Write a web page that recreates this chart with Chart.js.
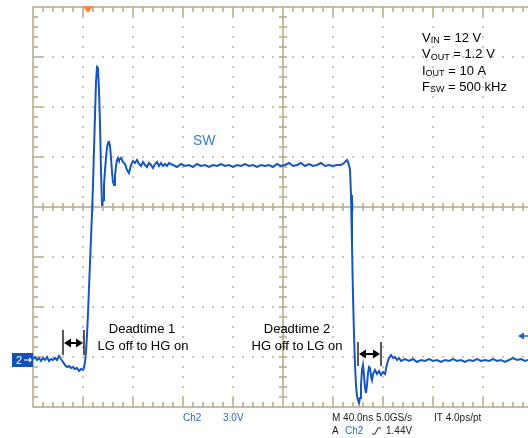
<!DOCTYPE html>
<html>
<head>
<meta charset="utf-8">
<script src="https://cdn.jsdelivr.net/npm/chart.js@4.4.1/dist/chart.umd.min.js"></script>
<style>
  html, body { margin: 0; padding: 0; background: #fff; overflow: hidden; }
  #wrap { width: 528px; height: 438px; }
</style>
</head>
<body>
<div id="wrap"><canvas id="scope"></canvas></div>
<script>
// time axis: 40 ns/div, volts: 3 V/div (Ch2, SW node)
const timeNs = [
  0, 1.6, 3.2, 4.8, 6.4, 8, 9.6, 11.2, 12.8, 14.4, 16, 17.6, 19.2, 20.8, 22.4,
  24, 25.6, 27.2, 28.8, 30.4, 32, 33.6, 35.2, 36.8, 38.4, 40, 40.8, 41.6,
  42.4, 43.2, 44, 44.8, 45.6, 46.4, 47.2, 48, 48.8, 49.6, 50.4, 51.2, 52, 52.8,
  53.6, 54.4, 55.2, 56, 56.8, 57.6, 58.4, 59.2, 60, 60.8, 61.6, 62.4, 63.2, 64,
  64.8, 65.6, 66.4, 67.2, 68, 68.8, 70.4, 72, 73.6, 75.2, 76.8, 78.4, 80, 81.6,
  83.2, 84.8, 86.4, 88, 89.6, 91.2, 92.8, 94.4, 96, 97.6, 99.2, 100.8, 102.4,
  104, 105.6, 107.2, 108.8, 112, 115.2, 118.4, 121.6, 124.8, 128, 131.2, 134.4,
  137.6, 140.8, 144, 147.2, 150.4, 153.6, 156.8, 160, 163.2, 166.4, 169.6, 172.8,
  176, 179.2, 182.4, 185.6, 188.8, 192, 195.2, 198.4, 201.6, 204.8, 208, 211.2,
  214.4, 217.6, 220.8, 224, 227.2, 230.4, 233.6, 236.8, 240, 243.2, 246.4, 248.8,
  250.4, 251.2, 252, 252.8, 253.6, 254.4, 255.2, 256, 256.8, 257.6, 258.4, 259.2,
  260, 260.8, 261.6, 262.4, 263.2, 264, 264.8, 265.6, 266.4, 267.2, 268, 268.8,
  269.6, 270.4, 271.2, 272, 273.6, 275.2, 276.8, 278.4, 280, 281.6, 283.2, 284.8,
  286.4, 288, 289.6, 291.2, 292.8, 294.4, 297.6, 300.8, 304, 307.2, 310.4, 313.6,
  316.8, 320, 323.2, 326.4, 329.6, 332.8, 336, 339.2, 342.4, 345.6, 348.8, 352,
  355.2, 358.4, 361.6, 364.8, 368, 371.2, 374.4, 377.6, 380.8, 384, 387.2, 390.4,
  393.6, 396
];
const swVolts = [
  0.06, 0.18, 0, 0.12, -0.06, 0.12, 0, 0.18, -0.06, 0.06, 0, 0.12, 0, 0.24, 0.06,
  -0.12, -0.3, -0.42, -0.36, -0.48, -0.42, -0.54, -0.48, -0.66, -0.54, -0.6, -0.48, -0.12,
  0.48, 1.5, 2.82, 4.32, 5.82, 7.32, 8.82, 10.5, 12.6, 14.7, 16.68, 17.58, 17.52, 16.2,
  14.1, 11.4, 9.24, 9.6, 10.5, 11.4, 12.12, 12.72, 13.02, 13.08, 12.84, 12.12, 11.28, 10.68,
  10.5, 11.04, 11.64, 12.0, 12.12, 12.0, 12.12, 11.88, 11.76, 11.4, 11.22, 11.7, 11.94, 11.82,
  12.0, 11.76, 11.64, 11.88, 11.7, 11.58, 11.82, 11.7, 11.52, 11.76, 11.88, 11.64, 11.82,
  11.64, 11.76, 11.64, 11.82, 11.7, 11.58, 11.76, 11.64, 11.7, 11.58, 11.76, 11.64,
  11.7, 11.58, 11.7, 11.64, 11.76, 11.64, 11.7, 11.58, 11.7, 11.64, 11.76, 11.64,
  11.7, 11.58, 11.7, 11.64, 11.7, 11.58, 11.76, 11.64, 11.7, 11.82, 11.64, 11.7,
  11.82, 11.64, 11.76, 11.64, 11.7, 11.82, 11.64, 11.7, 11.64, 11.7, 11.7, 11.82,
  11.94, 12.0, 11.88, 11.7, 11.4, 9.9, 6.9, 3.9, 1.5, -0.3, -1.5, -2.16,
  -2.4, -2.58, -2.28, -1.5, -0.6, -0.3, -0.9, -1.68, -1.98, -1.5, -0.78, -0.42,
  -0.48, -0.96, -1.2, -0.84, -0.6, -0.84, -0.66, -0.9, -0.72, -0.84, -0.24, 0.12,
  0.3, 0.12, 0.18, 0, 0.12, -0.06, 0.06, -0.06, 0.06, -0.12, 0, -0.06,
  0.06, -0.06, 0, -0.12, 0, -0.06, 0.06, -0.06, 0, -0.12, 0, -0.06,
  0.06, -0.06, 0, -0.06, 0.06, -0.06, 0, -0.12, 0, 0.12, 0, 0.06,
  -0.06, 0
];
const nsPerDiv = 40;
const voltsPerDiv = 3;
const triggerNs = 44;
const triggerVolts = 1.44;
const settings = ["40.0ns", "5.0GS/s", "4.0ps/pt", "3.0V", "1.44V"];

const graticule = {
  id: "graticule",
  beforeDatasetsDraw(chart) {
    const { ctx, scales: { x, y } } = chart;
    const xAt = i => x.getPixelForValue(i * nsPerDiv);
    const yAt = j => y.getPixelForValue(y.min + j * voltsPerDiv);
    const left = xAt(0), right = xAt(10), top = yAt(8), bottom = yAt(0);
    const mx = (xAt(1) - xAt(0)) / 5, my = (yAt(0) - yAt(1)) / 5;
    ctx.save();
    // dotted division lines
    ctx.fillStyle = "#cdc6aa";
    for (let i = 1; i < 10; i++) {
      if (i === 5) continue;
      const px = Math.round(xAt(i));
      for (let k = 1; k < 40; k++) ctx.fillRect(px - 1, Math.round(top + k * my) - 1, 2, 2);
    }
    for (let j = 1; j < 8; j++) {
      if (j === 4) continue;
      const py = Math.round(yAt(j));
      for (let k = 1; k < 50; k++) ctx.fillRect(Math.round(left + k * mx) - 1, py - 1, 2, 2);
    }
    ctx.strokeStyle = "#b1a98b";
    ctx.lineWidth = 1.5;
    // frame
    ctx.strokeRect(left, top, right - left, bottom - top);
    ctx.beginPath();
    // border ticks
    for (let k = 1; k < 50; k++) {
      const px = left + k * mx, len = k % 5 === 0 ? 9 : 5;
      ctx.moveTo(px, top); ctx.lineTo(px, top + len);
      ctx.moveTo(px, bottom); ctx.lineTo(px, bottom - len);
    }
    for (let k = 1; k < 40; k++) {
      const py = top + k * my, len = k % 5 === 0 ? 9 : 5;
      ctx.moveTo(left, py); ctx.lineTo(left + len, py);
    }
    // center cross with minor ticks
    const cx = xAt(5), cy = yAt(4);
    ctx.moveTo(left, cy); ctx.lineTo(right, cy);
    ctx.moveTo(cx, top); ctx.lineTo(cx, bottom);
    for (let k = 1; k < 50; k++) {
      const px = left + k * mx;
      ctx.moveTo(px, cy - 4); ctx.lineTo(px, cy + 4);
    }
    for (let k = 1; k < 40; k++) {
      const py = top + k * my;
      ctx.moveTo(cx - 4, py); ctx.lineTo(cx + 4, py);
    }
    ctx.stroke();
    ctx.restore();
  }
};

function arrowHead(ctx, x, y, dir, len, half) {
  ctx.beginPath();
  ctx.moveTo(x, y);
  ctx.lineTo(x - dir * len, y - half);
  ctx.lineTo(x - dir * len, y + half);
  ctx.closePath();
  ctx.fill();
}

function subText(ctx, x, y, main, sub, rest) {
  ctx.font = "13px 'Liberation Sans', Arial, sans-serif";
  ctx.fillText(main, x, y);
  x += ctx.measureText(main).width;
  ctx.font = "9px 'Liberation Sans', Arial, sans-serif";
  ctx.fillText(sub, x, y + 3);
  x += ctx.measureText(sub).width;
  ctx.font = "13px 'Liberation Sans', Arial, sans-serif";
  ctx.fillText(rest, x, y);
}

const overlay = {
  id: "overlay",
  afterDatasetsDraw(chart) {
    const { ctx, scales: { x, y } } = chart;
    ctx.save();
    ctx.textBaseline = "middle";
    // deadtime markers
    ctx.strokeStyle = "#000";
    ctx.fillStyle = "#000";
    ctx.lineWidth = 1.3;
    const marks = [[24, 40.8, 1.8, 0.3, 1.02], [260, 278.4, 1.08, -0.36, 0.36]];
    marks.forEach(([t0, t1, vTop, vBot, vArr]) => {
      const x0 = x.getPixelForValue(t0), x1 = x.getPixelForValue(t1);
      const ya = y.getPixelForValue(vArr);
      ctx.beginPath();
      ctx.moveTo(x0, y.getPixelForValue(vTop)); ctx.lineTo(x0, y.getPixelForValue(vBot));
      ctx.moveTo(x1, y.getPixelForValue(vTop)); ctx.lineTo(x1, y.getPixelForValue(vBot));
      ctx.stroke();
      ctx.lineWidth = 2;
      ctx.beginPath();
      ctx.moveTo(x0 + 5, ya); ctx.lineTo(x1 - 5, ya);
      ctx.stroke();
      ctx.lineWidth = 1.3;
      arrowHead(ctx, x0 + 1, ya, -1, 7, 4.5);
      arrowHead(ctx, x1 - 1, ya, 1, 7, 4.5);
    });
    ctx.textAlign = "center";
    ctx.font = "13px 'Liberation Sans', Arial, sans-serif";
    ctx.fillText("Deadtime 1", 142, 329);
    ctx.fillText("LG off to HG on", 143, 346);
    ctx.fillText("Deadtime 2", 297, 329);
    ctx.fillText("HG off to LG on", 297, 346);
    // conditions
    ctx.textAlign = "left";
    subText(ctx, 422, 38, "V", "IN", " = 12 V");
    subText(ctx, 422, 54.5, "V", "OUT", " = 1.2 V");
    subText(ctx, 422, 71, "I", "OUT", " = 10 A");
    subText(ctx, 422, 87, "F", "SW", " = 500 kHz");
    // trace label
    ctx.fillStyle = "#2f7fd0";
    ctx.font = "14px 'Liberation Sans', Arial, sans-serif";
    ctx.fillText("SW", 193, 141);
    // trigger position marker
    const tx = x.getPixelForValue(triggerNs), top = chart.chartArea.top;
    ctx.fillStyle = "#ff8a3d";
    ctx.beginPath();
    ctx.moveTo(tx - 5.5, top - 1); ctx.lineTo(tx + 5.5, top - 1); ctx.lineTo(tx, top + 6);
    ctx.closePath(); ctx.fill();
    // trigger level arrow at right edge
    const ty = y.getPixelForValue(triggerVolts);
    ctx.strokeStyle = "#1b5fc4"; ctx.fillStyle = "#1b5fc4"; ctx.lineWidth = 1.5;
    ctx.beginPath(); ctx.moveTo(522, ty); ctx.lineTo(528, ty); ctx.stroke();
    arrowHead(ctx, 518, ty, -1, 6, 3.5);
    // ground marker for Ch2
    const gy = Math.round(y.getPixelForValue(0));
    ctx.fillStyle = "#1452b8";
    ctx.fillRect(12, gy - 7, 21, 14);
    ctx.fillStyle = "#fff";
    ctx.font = "11px 'Liberation Sans', Arial, sans-serif";
    ctx.fillText("2", 16, gy + 1);
    ctx.strokeStyle = "#fff"; ctx.lineWidth = 1;
    ctx.beginPath(); ctx.moveTo(24, gy); ctx.lineTo(30, gy); ctx.stroke();
    arrowHead(ctx, 32, gy, 1, 3, 2.5);
    // settings readout
    ctx.font = "10px 'Liberation Sans', Arial, sans-serif";
    ctx.fillStyle = "#2a68c8";
    ctx.fillText("Ch2", 183, 418);
    ctx.fillText(settings[3], 223, 418);
    ctx.fillText("Ch2", 345, 431);
    ctx.fillStyle = "#222";
    ctx.fillText("M " + settings[0] + " " + settings[1], 332, 418);
    ctx.fillText("IT " + settings[2], 434, 418);
    ctx.fillText("A", 332, 431);
    ctx.fillText(settings[4], 386, 431);
    ctx.beginPath(); ctx.strokeStyle = "#222"; ctx.lineWidth = 1;
    ctx.moveTo(372, 434); ctx.lineTo(375, 434); ctx.lineTo(378, 428); ctx.lineTo(381, 428);
    ctx.stroke();
    ctx.restore();
  }
};

new Chart(document.getElementById("scope"), {
  type: "line",
  data: {
    datasets: [{
      label: "SW",
      data: timeNs.map((t, i) => ({ x: t, y: swVolts[i] })),
      borderColor: "#1656c2",
      borderWidth: 2,
      pointRadius: 0,
      tension: 0,
      fill: false
    }]
  },
  options: {
    responsive: true,
    maintainAspectRatio: false,
    animation: false,
    devicePixelRatio: 1,
    layout: { padding: { left: 33, top: 7, right: 0, bottom: 31 } },
    scales: {
      x: { type: "linear", min: 0, max: 396, display: false },
      y: { type: "linear", min: -2.82, max: 21.18, display: false }
    },
    plugins: { legend: { display: false }, tooltip: { enabled: false } }
  },
  plugins: [graticule, overlay]
});
</script>
</body>
</html>
